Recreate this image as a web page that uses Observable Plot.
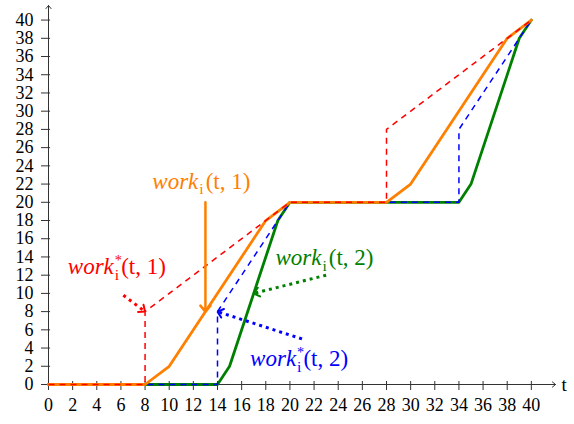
<!DOCTYPE html>
<html>
<head>
<meta charset="utf-8">
<script src="https://cdn.jsdelivr.net/npm/d3@7"></script>
<script src="https://cdn.jsdelivr.net/npm/@observablehq/plot@0.6"></script>
<style>
  body { margin: 0; background: #fff; }
</style>
</head>
<body>
<div id="chart"></div>
<script>
// Tick values on both axes
const xTicks = [0, 2, 4, 6, 8, 10, 12, 14, 16, 18, 20, 22, 24, 26, 28, 30, 32, 34, 36, 38, 40];
const yTicks = [0, 2, 4, 6, 8, 10, 12, 14, 16, 18, 20, 22, 24, 26, 28, 30, 32, 34, 36, 38, 40];

// work_i(t, 1)
const t1 = [0, 8, 10, 18, 20, 28, 30, 38, 40];
const work1 = [0, 0, 2, 18, 20, 20, 22, 38, 40];
// work_i(t, 2)
const t2 = [0, 14, 15, 19, 20, 34, 35, 39, 40];
const work2 = [0, 0, 2, 18, 20, 20, 22, 38, 40];
// work*_i(t, 1)
const tStar1 = [0, 8, 8, 18, 20, 28, 28, 38, 40];
const workStar1 = [0, 0, 8, 18, 20, 20, 28, 38, 40];
// work*_i(t, 2)
const tStar2 = [0, 14, 14, 19, 20, 34, 34, 39, 40];
const workStar2 = [0, 0, 8, 18, 20, 20, 28, 38, 40];

// Curve labels (anchored at the left end of the baseline)
const labelText = ["work_i(t, 1)", "work*_i(t, 1)", "work_i(t, 2)", "work*_i(t, 2)"];
const labelX = [8.6, 1.6, 18.8, 16.7];
const labelY = [21.5, 12.1, 13.1, 2.0];
const labelColor = ["#ff8000", "#ff0000", "#008000", "#0000ff"];

// Pointers from each label to its curve
const pointerX1 = [13, 6.2, 23, 21];
const pointerY1 = [20, 9.8, 12, 5];
const pointerX2 = [13, 8, 17, 14];
const pointerY2 = [8, 8, 10, 8];
const solidPointers = [0];
const dottedPointers = [1, 2, 3];

// Axis lines with arrow heads
const axisX1 = [0, 0];
const axisY1 = [0, 0];
const axisX2 = [42, 0];
const axisY2 = [0, 41.6];

const AXIS = "#333";
const FONT = "'Liberation Serif', 'DejaVu Serif', serif";
const LABEL_SIZE = 23;

const plot = Plot.plot({
  width: 574,
  height: 424,
  marginLeft: 48,
  marginRight: 19,
  marginTop: 5,
  marginBottom: 40,
  style: { fontFamily: FONT, fontSize: "18px", color: "#000", background: "#fff" },
  x: { domain: [0, 42], label: null },
  y: { domain: [0, 41.6], label: null },
  marks: [
    Plot.axisX({ ticks: xTicks, tickSize: 6, tickPadding: 8, label: null, stroke: AXIS, fill: "#000" }),
    Plot.axisY({ ticks: yTicks, tickSize: 7, tickPadding: 8, label: null, stroke: AXIS, fill: "#000" }),
    Plot.ruleX(xTicks, { x: (d) => d, y1: 0, y2: 0.33, stroke: AXIS }),
    Plot.ruleY(yTicks, { y: (d) => d, x1: 0, x2: 0.17, stroke: AXIS }),
    Plot.arrow(axisX1, {
      x1: axisX1, y1: axisY1, x2: axisX2, y2: axisY2,
      stroke: AXIS, strokeWidth: 1, headLength: 6, headAngle: 80
    }),
    Plot.text(["t"], { x: [42], y: [0], text: (d) => d, dx: 6, textAnchor: "start", fontSize: 19 }),

    Plot.line(t2, { x: t2, y: work2, stroke: "#008000", strokeWidth: 2.8 }),
    Plot.line(tStar2, {
      x: tStar2, y: workStar2, stroke: "#0000ff", strokeWidth: 1.5,
      strokeDasharray: "6,5", strokeLinecap: "butt"
    }),
    Plot.line(t1, { x: t1, y: work1, stroke: "#ff8000", strokeWidth: 2.8 }),
    Plot.line(tStar1, {
      x: tStar1, y: workStar1, stroke: "#ff0000", strokeWidth: 1.5,
      strokeDasharray: "6,5", strokeLinecap: "butt"
    }),

    Plot.arrow(solidPointers, {
      x1: (i) => pointerX1[i], y1: (i) => pointerY1[i],
      x2: (i) => pointerX2[i], y2: (i) => pointerY2[i],
      stroke: (i) => labelColor[i], strokeWidth: 2.5, headLength: 4.7, headAngle: 80
    }),
    Plot.arrow(dottedPointers, {
      x1: (i) => pointerX1[i], y1: (i) => pointerY1[i],
      x2: (i) => pointerX2[i], y2: (i) => pointerY2[i],
      stroke: (i) => labelColor[i], strokeWidth: 3, headLength: 3.5, headAngle: 80
    }),

    Plot.text(labelText, {
      x: labelX, y: labelY, text: (d) => d, fill: labelColor,
      textAnchor: "start", lineAnchor: "bottom", fontSize: LABEL_SIZE
    })
  ]
});

document.getElementById("chart").appendChild(plot);

// Dotted pointer colours (the solid orange pointer is left as drawn)
const dottedColors = new Set(dottedPointers.map((i) => labelColor[i].toLowerCase()));

// Dotted shafts with solid heads: split each pointer path into shaft and head
d3.select(plot).selectAll("path").each(function () {
  const stroke = (this.getAttribute("stroke") || "").toLowerCase();
  if (!dottedColors.has(stroke)) return;
  const d = this.getAttribute("d") || "";
  const k = d.indexOf("M", 1);
  if (k < 0) return;
  const shaft = this.cloneNode();
  shaft.setAttribute("d", d.slice(0, k));
  shaft.setAttribute("stroke-dasharray", "3,4");
  shaft.setAttribute("stroke-linecap", "butt");
  this.parentNode.insertBefore(shaft, this);
  this.setAttribute("d", d.slice(k));
  this.setAttribute("stroke-width", 2);
});

// Curve labels: italic "work" with stacked superscript star and subscript i
const fs = LABEL_SIZE;
d3.select(plot).selectAll("text").each(function () {
  const s = this.textContent;
  const m = s.match(/^(work)(\*?)_i(.*)$/);
  if (!m) return;
  const el = d3.select(this);
  el.text(null).attr("y", 0);
  el.append("tspan").attr("font-style", "italic").text(m[1]);
  if (m[2]) {
    el.append("tspan").attr("font-size", fs * 0.62).attr("dx", 1).attr("dy", -fs * 0.42).text("*");
    el.append("tspan").attr("font-size", fs * 0.68)
      .attr("dx", -fs * 0.62 * 0.5).attr("dy", fs * 0.42 + fs * 0.24).text("i");
  } else {
    el.append("tspan").attr("font-size", fs * 0.68)
      .attr("dx", 1).attr("dy", fs * 0.24).text("i");
  }
  el.append("tspan").attr("dx", 2).attr("dy", -fs * 0.24).text(m[3]);
});
</script>
</body>
</html>
